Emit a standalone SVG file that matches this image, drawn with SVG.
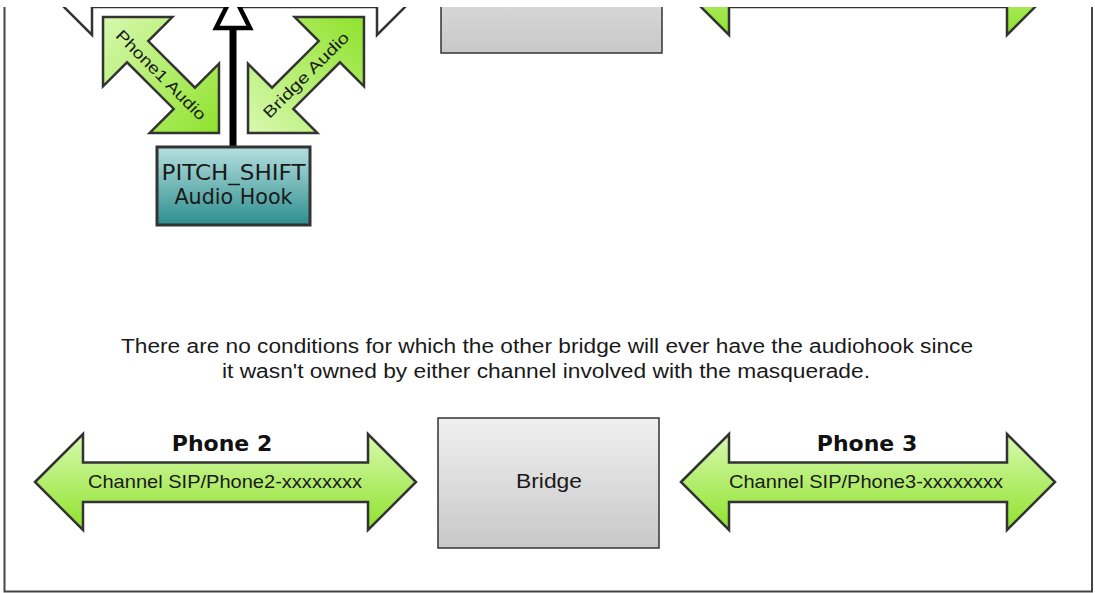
<svg xmlns="http://www.w3.org/2000/svg" width="1095" height="593" viewBox="0 0 1095 593">
<defs>
<linearGradient id="gGreen" x1="0" y1="0" x2="0" y2="1">
<stop offset="0" stop-color="#d8f9b0"/>
<stop offset="1" stop-color="#8fe22c"/>
</linearGradient>
<linearGradient id="gGreenD" x1="0" y1="0" x2="1" y2="0">
<stop offset="0" stop-color="#d8f9b0"/>
<stop offset="1" stop-color="#8fe22c"/>
</linearGradient>
<linearGradient id="gGray" x1="0" y1="0" x2="0" y2="1">
<stop offset="0" stop-color="#f0f0f0"/>
<stop offset="1" stop-color="#c8c8c8"/>
</linearGradient>
<linearGradient id="gTeal" x1="0" y1="0" x2="0" y2="1">
<stop offset="0" stop-color="#b6dfdf"/>
<stop offset="1" stop-color="#2e8e8e"/>
</linearGradient>
<clipPath id="view"><rect x="0" y="7" width="1095" height="590"/></clipPath>
<style>
.arrow{fill:url(#gGreen);stroke:#333;stroke-width:2.5;stroke-linejoin:miter}
.diag{fill:url(#gGreenD);stroke:#333;stroke-width:2.5}
.box{fill:url(#gGray);stroke:#333;stroke-width:1.5}
.lbl{font-family:"Liberation Sans",Arial,sans-serif;fill:#1a1a1a;text-anchor:middle}
.dv{font-family:"DejaVu Sans",sans-serif;fill:#1a1a1a;text-anchor:middle}
.title{font-family:"DejaVu Sans",sans-serif;font-weight:bold;fill:#111;text-anchor:middle;font-size:22px}
</style>
</defs>
<rect width="1095" height="593" fill="#fff"/>
<g clip-path="url(#view)">
<g id="frame">
<polyline points="4.5,-10 4.5,591.5 1092,591.5 1092,-10" fill="none" stroke="#444" stroke-width="2"/>
</g>
<g id="phone1-channel">
<polygon points="44,-13 92,-61 92,-33 377,-33 377,-61 425,-13 377,35 377,7 92,7 92,35" fill="#fff" stroke="#333" stroke-width="2.5"/>
</g>
<g id="bridge-top">
<rect class="box" x="441" y="-77" width="221" height="130"/>
</g>
<g id="other-channel-top">
<polygon class="arrow" points="681,-13 729,-61 729,-33 1007,-33 1007,-61 1055,-13 1007,35 1007,7 729,7 729,35"/>
</g>
<g id="connectors">
<line x1="233" y1="148" x2="233" y2="30" stroke="#000" stroke-width="7"/>
<polygon points="233,-6 216,28 250,28" fill="#fff" stroke="#000" stroke-width="4.5"/>
</g>
<g id="phone1-audio" transform="translate(161,75) rotate(45)">
<polygon class="diag" points="-82,0 -33,-49 -33,-15 33,-15 33,-49 82,0 33,49 33,15 -33,15 -33,49"/>
<text class="lbl" x="0" y="5.5" font-size="16" textLength="120" lengthAdjust="spacingAndGlyphs">Phone1 Audio</text>
</g>
<g id="bridge-audio" transform="translate(306,75) rotate(-45)">
<polygon class="diag" points="-82,0 -33,-49 -33,-15 33,-15 33,-49 82,0 33,49 33,15 -33,15 -33,49"/>
<text class="lbl" x="0" y="5.5" font-size="16" textLength="114" lengthAdjust="spacingAndGlyphs">Bridge Audio</text>
</g>
<g id="pitch-shift">
<rect x="157" y="147" width="153" height="78" fill="url(#gTeal)" stroke="#333" stroke-width="3"/>
<text class="dv" x="233.5" y="180" font-size="21" textLength="144" lengthAdjust="spacingAndGlyphs">PITCH_SHIFT</text>
<text class="dv" x="233.5" y="204" font-size="21" textLength="118" lengthAdjust="spacingAndGlyphs">Audio Hook</text>
</g>
<g id="note">
<text class="lbl" x="547" y="353" font-size="20" textLength="852" lengthAdjust="spacingAndGlyphs">There are no conditions for which the other bridge will ever have the audiohook since</text>
<text class="lbl" x="546" y="378" font-size="20" textLength="648" lengthAdjust="spacingAndGlyphs">it wasn't owned by either channel involved with the masquerade.</text>
</g>
<g id="phone2">
<polygon class="arrow" points="35,482 83,434 83,462.5 368,462.5 368,434 416,482 368,530 368,502 83,502 83,530"/>
<text class="title" x="222" y="451">Phone 2</text>
<text class="lbl" x="225" y="488" font-size="18.5" textLength="274" lengthAdjust="spacingAndGlyphs">Channel SIP/Phone2-xxxxxxxx</text>
</g>
<g id="bridge">
<rect class="box" x="438" y="418" width="221" height="130"/>
<text class="lbl" x="549" y="488" font-size="20" textLength="66" lengthAdjust="spacingAndGlyphs">Bridge</text>
</g>
<g id="phone3">
<polygon class="arrow" points="681,482 729,434 729,462.5 1007,462.5 1007,434 1055,482 1007,530 1007,502 729,502 729,530"/>
<text class="title" x="867" y="451">Phone 3</text>
<text class="lbl" x="866" y="488" font-size="18.5" textLength="274" lengthAdjust="spacingAndGlyphs">Channel SIP/Phone3-xxxxxxxx</text>
</g>
</g>
</svg>
